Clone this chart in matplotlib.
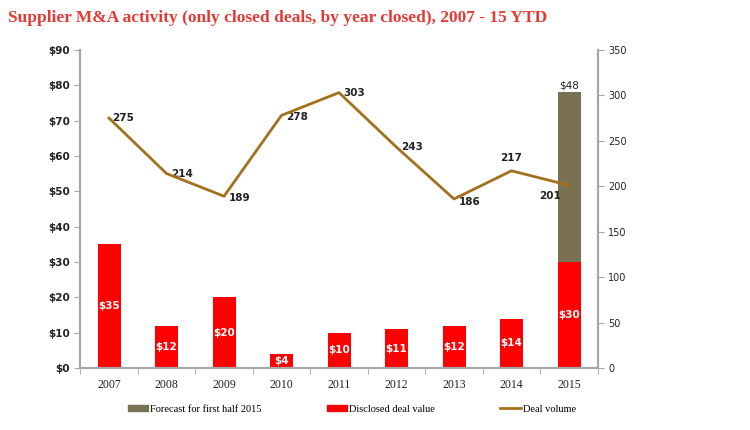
import matplotlib
matplotlib.use('Agg')
import matplotlib.pyplot as plt
import numpy as np
from matplotlib.patches import Patch
from matplotlib.lines import Line2D

years = ['2007', '2008', '2009', '2010', '2011', '2012', '2013', '2014', '2015']
deal_value = [35, 12, 20, 4, 10, 11, 12, 14, 30]
forecast = [0, 0, 0, 0, 0, 0, 0, 0, 48]
deal_volume = [275, 214, 189, 278, 303, 243, 186, 217, 201]

RED = '#FF0000'
FORECAST = '#7A7052'
LINE = '#A3711C'
GREY = '#A6A6A6'
TXT = '#222222'

# label offsets (points) for the volume labels
vol_offsets = [(10, 0), (11, 0), (11, -1), (11, -1), (11, 0), (11, 0), (11, -2), (0, 9), (-14, -8)]

fig = plt.figure(figsize=(7.5, 4.3), dpi=100)
ax = fig.add_axes([0.107, 0.144, 0.69, 0.74])
ax2 = ax.twinx()

x = np.arange(len(years))
ax.bar(x, deal_value, width=0.4, color=RED, zorder=2)
ax.bar(x, forecast, width=0.4, bottom=deal_value, color=FORECAST, zorder=2)

for xi, v in zip(x, deal_value):
    ax.text(xi, v / 2, f'${v}', ha='center', va='center', color='white',
            fontsize=7.5, fontweight='bold', zorder=3)
for xi, v, f in zip(x, deal_value, forecast):
    if f:
        ax.text(xi, v + f + 0.4, f'${f}', ha='center', va='bottom', color=TXT, fontsize=7.5)

ax2.plot(x, deal_volume, color=LINE, lw=2, zorder=4)
for xi, v, off in zip(x, deal_volume, vol_offsets):
    ax2.annotate(str(v), (xi, v), xytext=off, textcoords='offset points',
                 ha='center', va='center', fontsize=7.5, fontweight='bold', color=TXT)

ax.set_xlim(-0.5, len(years) - 0.5)
ax.set_ylim(0, 90)
ax.set_yticks(np.arange(0, 91, 10))
ax.set_yticklabels([f'${t}' for t in range(0, 91, 10)])
ax2.set_ylim(0, 350)
ax2.set_yticks(np.arange(0, 351, 50))

ax.set_xticks(x)
ax.set_xticklabels(years, family='Liberation Serif', fontsize=8.5)
ax.set_xticks(np.arange(-0.5, len(years), 1), minor=True)
ax.tick_params(axis='x', which='major', length=0, pad=8, labelcolor=TXT)
ax.tick_params(axis='x', which='minor', length=4, color=GREY, direction='out')
ax.tick_params(axis='y', length=4, color=GREY, labelsize=7.5, labelcolor=TXT)
ax2.tick_params(axis='y', length=4, color=GREY, labelsize=7, labelcolor=TXT)
for lbl in ax.get_yticklabels():
    lbl.set_fontweight('bold')

for a in (ax, ax2):
    a.spines['top'].set_visible(False)
    for s in ('left', 'right', 'bottom'):
        a.spines[s].set_color(GREY)
        a.spines[s].set_linewidth(1.5)

handles = [Patch(color=FORECAST), Patch(color=RED), Line2D([], [], color=LINE, lw=2)]
labels = ['Forecast for first half 2015', 'Disclosed deal value', 'Deal volume']
fig.legend(handles, labels, loc='center', bbox_to_anchor=(0.469, 0.048), ncol=3,
           frameon=False, columnspacing=6.2, handlelength=2.0, handleheight=0.6,
           handletextpad=0.2, prop={'family': 'Liberation Serif', 'size': 7.5})

fig.text(0.01, 0.958, 'Supplier M&A activity (only closed deals, by year closed), 2007 - 15 YTD',
         color='#E53935', fontsize=12.5, family='Liberation Serif', fontweight='bold',
         ha='left', va='center')

fig.savefig('out.png', dpi=100)
